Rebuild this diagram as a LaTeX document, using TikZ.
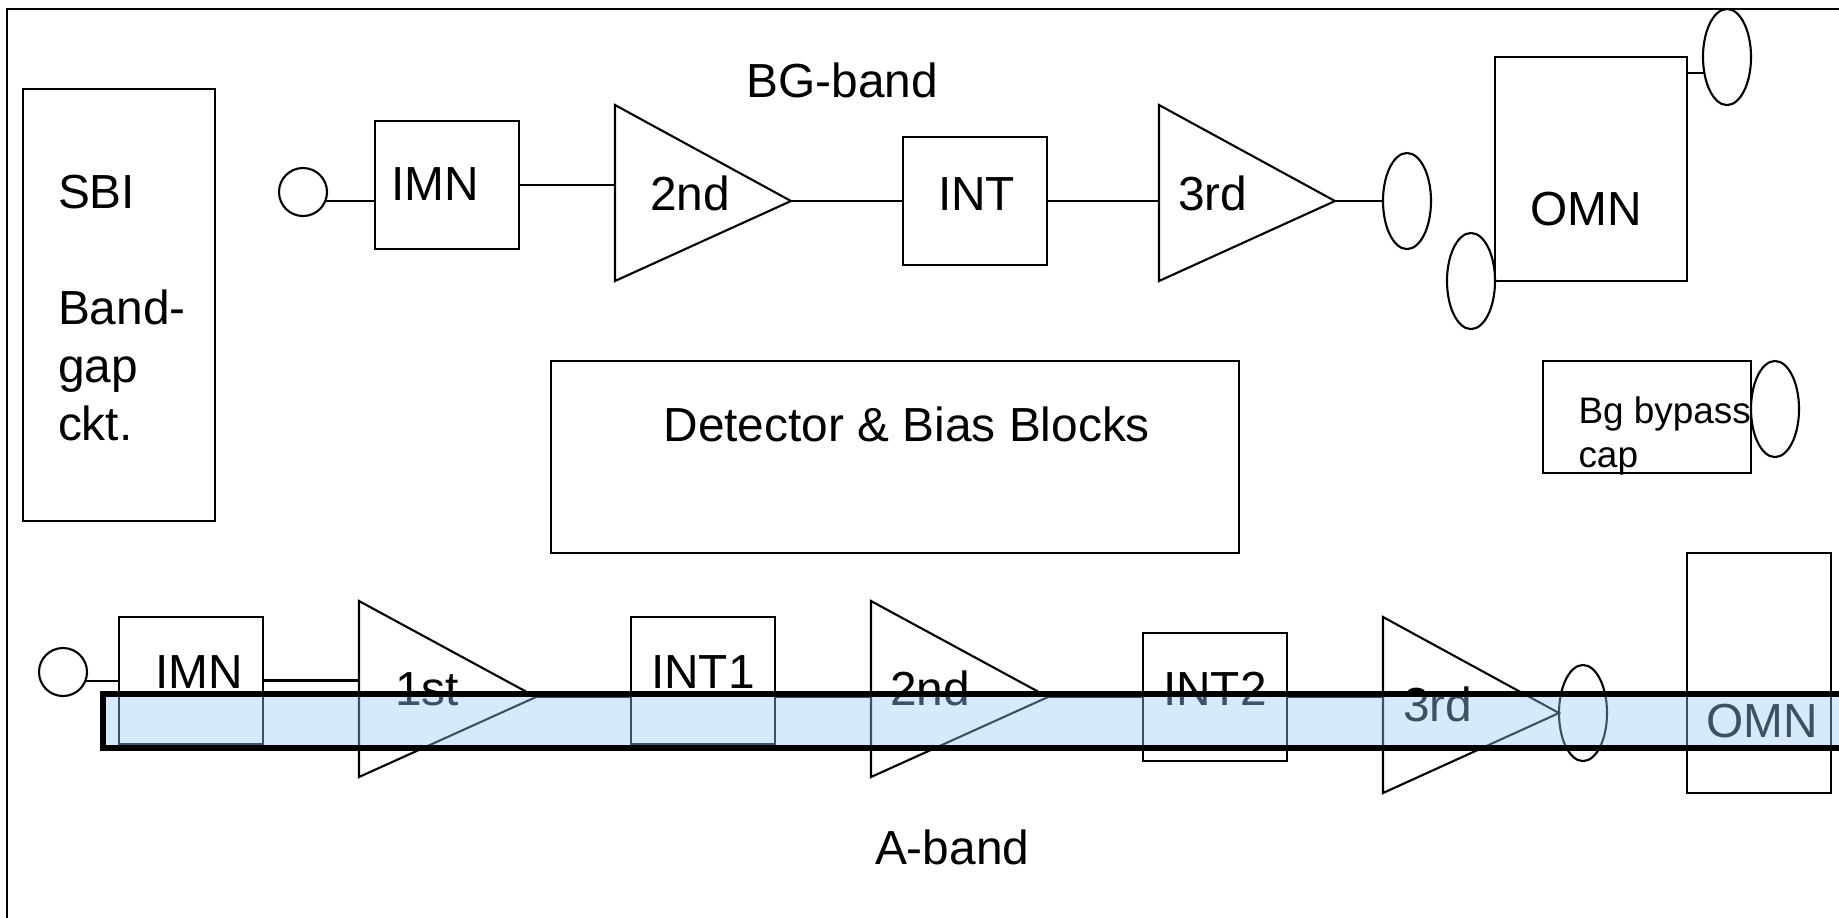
\documentclass[tikz,border=0pt]{standalone}
\usepackage{fontspec}
\setmainfont{Liberation Sans}
\usepackage{xcolor}
\usepackage{tikz}
\usetikzlibrary{shapes.geometric}
\definecolor{BandBlue}{RGB}{157,202,250}

\begin{document}
\begin{tikzpicture}[
            x=0.01cm, y=-0.01cm, line width=0.6pt,
            blockbox/.style 2 args={rectangle, draw, outer sep=0pt, inner sep=0pt,
                        minimum width=#1, minimum height=#2},
            capnode/.style={ellipse, draw, outer sep=0pt, inner sep=0pt,
                        minimum width=0.48cm, minimum height=0.96cm},
            srcnode/.style={circle, draw, outer sep=0pt, inner sep=0pt,
                        minimum size=0.48cm},
            lbl/.style={anchor=base west, inner sep=0pt, outer sep=0pt,
                        font=\fontsize{13.6}{16.5}\selectfont},
            lblsmall/.style={lbl, font=\fontsize{10.5}{12.4}\selectfont},
            bandbox/.style={rectangle, draw=black, line width=1.7pt, fill=BandBlue,
                        fill opacity=0.4, outer sep=0pt, inner sep=0pt,
                        minimum width=17.57cm, minimum height=0.54cm}
          ]
          \useasboundingbox (0,0) rectangle (1839,917);
          \fill[white] (0,0) rectangle (1839,917);
          \draw (7,9) rectangle (1870,940);

          % left column and middle blocks
          \node[blockbox={1.92cm}{4.32cm}] (sbi) at (119,305) {};
          \node[lbl, align=left, anchor=north west] (sbitxt) at (58,175) {SBI\\{}\\Band-\\gap\\ckt.};
          \node[blockbox={6.88cm}{1.92cm}] (det) at (895,457) {};
          \node[lbl] (dettxt) at (663.5,441) {Detector \& Bias Blocks};

          % BG-band
          \node[lbl] (bgtxt) at (746.5,97) {BG-band};
          \node[srcnode] (bgsrc) at (303,192) {};
          \node[blockbox={1.44cm}{1.28cm}] (bgimn) at (447,185) {};
          \node[lbl] (bgimntxt) at (391,200) {IMN};
          \coordinate (bgtwoa) at (615,105);
          \coordinate (bgtwob) at (615,281);
          \coordinate (bgtwoc) at (791,201);
          \draw (bgtwoa) -- (bgtwoc) -- (bgtwob) -- cycle;
          \node[lbl] (bgtwotxt) at (650,210) {2nd};
          \node[blockbox={1.44cm}{1.28cm}] (bgint) at (975,201) {};
          \node[lbl] (bginttxt) at (938,210) {INT};
          \coordinate (bgthra) at (1159,105);
          \coordinate (bgthrb) at (1159,281);
          \coordinate (bgthrc) at (1335,201);
          \draw (bgthra) -- (bgthrc) -- (bgthrb) -- cycle;
          \node[lbl] (bgthrtxt) at (1178,210) {3rd};
          \node[capnode] (bgcap) at (1407,201) {};
          \node[blockbox={1.92cm}{2.24cm}] (bgomn) at (1591,169) {};
          \node[lbl] (bgomntxt) at (1530,225) {OMN};
          \node[capnode] (bgcaptop) at (1727,57) {};
          \node[capnode] (bgcaplow) at (1471,281) {};
          \node[blockbox={2.08cm}{1.12cm}] (bypass) at (1647,417) {};
          \node[lblsmall, align=left, anchor=north west] (bypasstxt) at (1578.5,397) {Bg bypass\\cap};
          \node[capnode] (bypasscap) at (1775,409) {};

          \draw (bgsrc.-22) -- (bgimn.west |- bgsrc.-22);
          \draw (bgimn.east) -- (bgimn.east -| bgtwoa);
          \draw (bgtwoc) -- (bgint.west);
          \draw (bgint.east) -- (bgthra |- bgint.east);
          \draw (bgthrc) -- (bgcap.west);
          \draw (bgomn.east |- bgcaptop.215) -- (bgcaptop.215);

          % A-band
          \node[lbl] (atxt) at (875,864) {A-band};
          \node[srcnode] (asrc) at (63,672) {};
          \node[blockbox={1.44cm}{1.27cm}] (aimn) at (191,680.5) {};
          \node[lbl] (aimntxt) at (155,688) {IMN};
          \coordinate (aonea) at (359,601);
          \coordinate (aoneb) at (359,777);
          \coordinate (aonec) at (536,697);
          \draw (aonea) -- (aonec) -- (aoneb) -- cycle;
          \node[lbl] (aonetxt) at (395,705) {1st};
          \node[blockbox={1.44cm}{1.27cm}] (aintone) at (703,680.5) {};
          \node[lbl] (aintonetxt) at (651,688) {INT1};
          \coordinate (atwoa) at (871,601);
          \coordinate (atwob) at (871,777);
          \coordinate (atwoc) at (1048,697);
          \draw (atwoa) -- (atwoc) -- (atwob) -- cycle;
          \node[lbl] (atwotxt) at (890,705) {2nd};
          \node[blockbox={1.44cm}{1.28cm}] (ainttwo) at (1215,697) {};
          \node[lbl] (ainttwotxt) at (1163,705) {INT2};
          \coordinate (athra) at (1383,617);
          \coordinate (athrb) at (1383,793);
          \coordinate (athrc) at (1559,713);
          \draw (athra) -- (athrc) -- (athrb) -- cycle;
          \node[lbl] (athrtxt) at (1403,721) {3rd};
          \node[capnode] (acap) at (1583,713) {};
          \node[blockbox={1.44cm}{2.40cm}] (aomn) at (1759,673) {};
          \node[lbl] (aomntxt) at (1706,737) {OMN};

          \draw (asrc.-22) -- (aimn.west |- asrc.-22);
          \draw (aimn.east) -- (aimn.east -| aonea);
          \draw (aonec) -- (aintone.west |- aonec);
          \draw (aintone.east |- aonec) -- (atwoa |- aonec);
          \draw (atwoc) -- (ainttwo.west);
          \draw (ainttwo.east) -- (athra |- ainttwo.east);

          % highlight strip on top of the A-band chain
          \node[bandbox] (aband) at (982,721) {};
        \end{tikzpicture}
\end{document}
